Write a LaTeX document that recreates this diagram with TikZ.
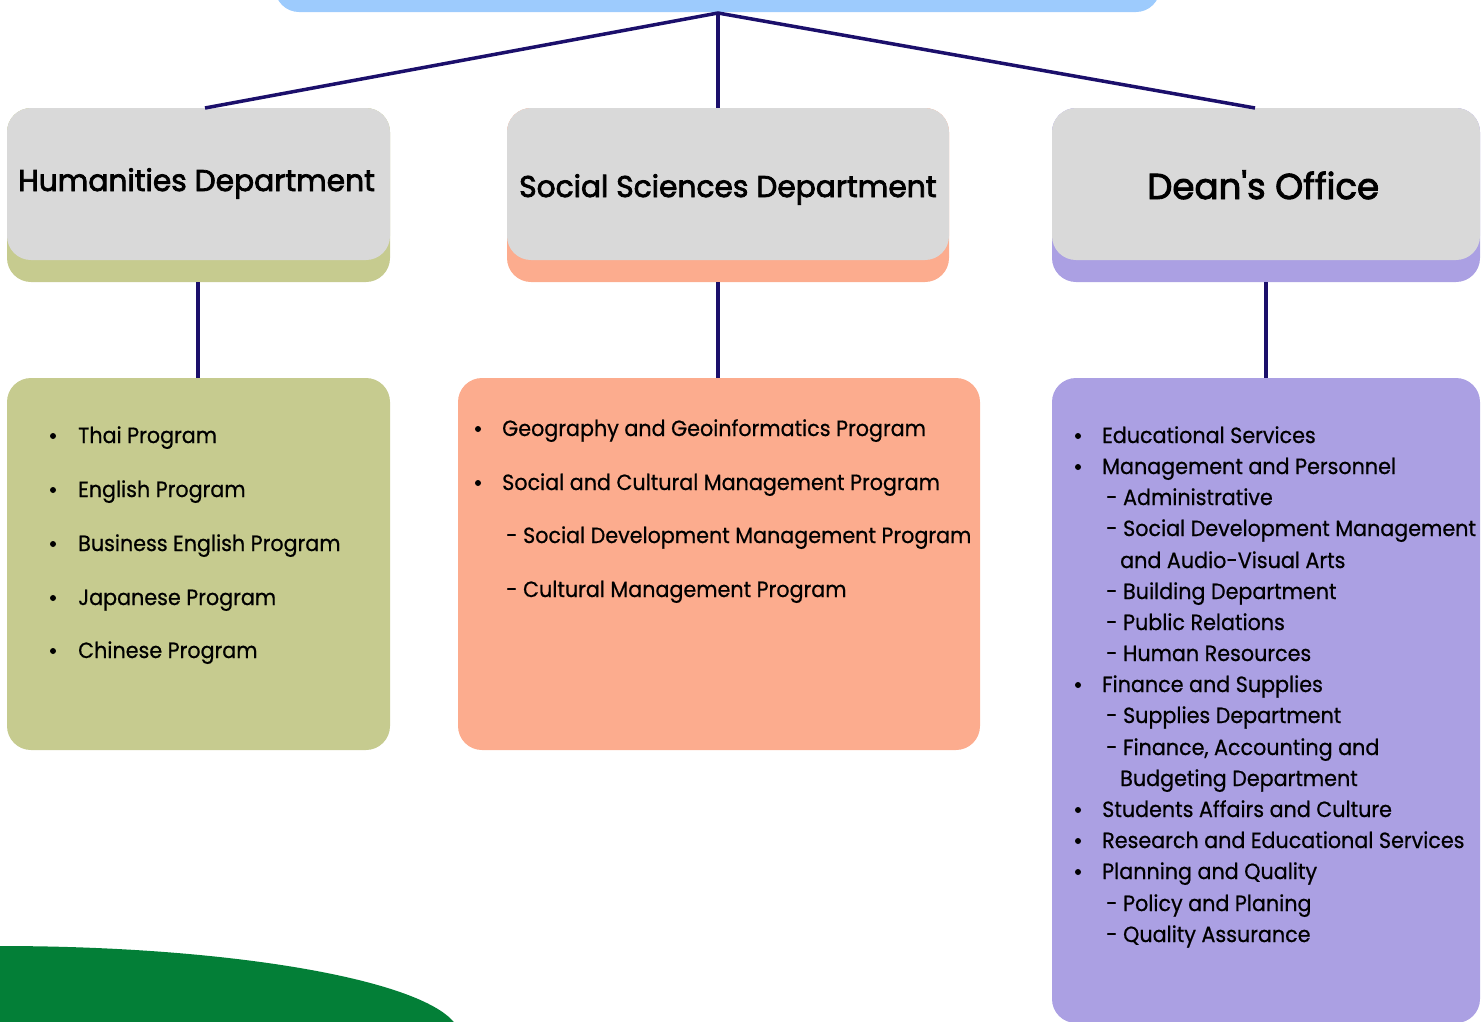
\documentclass[tikz,border=0pt]{standalone}
\usepackage{fontspec}
\setmainfont{Poppins}[FakeStretch=0.94,FakeBold=0.6]
\newfontfamily\hdfont{Poppins}[FakeStretch=0.99,FakeBold=2.5]
\usetikzlibrary{calc}
\definecolor{navy}{HTML}{1B0F6B}
\definecolor{olive}{HTML}{C6CB8F}
\definecolor{salmon}{HTML}{FCAC8E}
\definecolor{lav}{HTML}{ABA0E3}
\definecolor{hdrgray}{HTML}{D9D9D9}
\definecolor{topblue}{HTML}{9DCBFD}
\definecolor{leaf}{HTML}{037F37}
\begin{document}
\begin{tikzpicture}[x=1pt,y=-1pt,
  panel/.style={rectangle, rounded corners=24pt, inner sep=0pt, outer sep=0pt, anchor=north west},
  link/.style={draw=navy, line width=3.5pt},
  item/.style={anchor=base west, inner sep=0pt, font=\fontsize{22}{26}\selectfont},
  hd/.style={anchor=base west, inner sep=0pt, font=\hdfont\fontsize{30}{34}\selectfont},
  bul/.style={fill=black}
]
\useasboundingbox (0,0) rectangle (1482,1021);
% decorative leaf shape
\fill[leaf] (0,1037) ellipse [x radius=460, y radius=91];
% top box (cut off)
\node[panel, fill=topblue, minimum width=885pt, minimum height=60pt, anchor=south west] (top) at (275,12) {};
% department header boxes
\node[panel, fill=olive, minimum width=383pt, minimum height=174pt] (humb) at (7,108) {};
\node[panel, fill=hdrgray, minimum width=383pt, minimum height=152pt] (hum) at (7,108) {};
\node[panel, fill=salmon, minimum width=442pt, minimum height=174pt] (socb) at (507,108) {};
\node[panel, fill=hdrgray, minimum width=442pt, minimum height=152pt] (soc) at (507,108) {};
\node[panel, fill=lav, minimum width=428pt, minimum height=174pt] (deanb) at (1052,108) {};
\node[panel, fill=hdrgray, minimum width=428pt, minimum height=152pt] (dean) at (1052,108) {};
% list boxes
\node[panel, fill=olive, minimum width=383pt, minimum height=372pt] (huml) at (7,378) {};
\node[panel, fill=salmon, minimum width=522pt, minimum height=372pt] (socl) at (458,378) {};
\node[panel, fill=lav, minimum width=428pt, minimum height=645pt] (deanl) at (1052,378) {};
% connectors
\coordinate (apex) at (718,13);
\coordinate (humtop) at (205,108);
\coordinate (soctop) at (718,108);
\coordinate (deantop) at (1255,108);
\draw[link] (humtop) -- (apex) -- (deantop);
\draw[link] (apex) -- (soctop);
\draw[link] (humb.south -| 198,0) -- (huml.north -| 198,0);
\draw[link] (socb.south -| 718,0) -- (socl.north -| 718,0);
\draw[link] (deanb.south -| 1266,0) -- (deanl.north -| 1266,0);
% headers
\node[hd] (humt) at (18,191) {Humanities Department};
\node[hd] (soct) at (519,197) {Social Sciences Department};
\node[hd, font=\hdfont\fontsize{36}{40}\selectfont] (deant) at (1147,199) {Dean's Office};
% Humanities list
\foreach \y/\t [count=\i] in {443/Thai Program, 497/English Program, 551/Business English Program, 605/Japanese Program, 658/Chinese Program}{
  \fill[bul] (53,\y-7) circle (3);
  \node[item] (h\i) at (78,\y) {\t};
}
% Social Sciences list
\fill[bul] (478,429) circle (3);
\node[item] (s1) at (502,436) {Geography and Geoinformatics Program};
\fill[bul] (478,483) circle (3);
\node[item] (s2) at (502,490) {Social and Cultural Management Program};
\node[item] (s3) at (506,543) {- Social Development Management Program};
\node[item] (s4) at (506,597) {- Cultural Management Program};
% Dean's list
\foreach \y in {436,467,685,810,841,872}{ \fill[bul] (1078,\y) circle (3); }
\node[item] (d1) at (1102,443) {Educational Services};
\node[item] (d2) at (1102,474) {Management and Personnel};
\node[item] (d3) at (1106,505) {- Administrative};
\node[item] (d4) at (1106,536) {- Social Development Management};
\node[item] (d5) at (1120,568) {and Audio-Visual Arts};
\node[item] (d6) at (1106,599) {- Building Department};
\node[item] (d7) at (1106,630) {- Public Relations};
\node[item] (d8) at (1106,661) {- Human Resources};
\node[item] (d9) at (1102,692) {Finance and Supplies};
\node[item] (d10) at (1106,723) {- Supplies Department};
\node[item] (d11) at (1106,755) {- Finance, Accounting and};
\node[item] (d12) at (1120,786) {Budgeting Department};
\node[item] (d13) at (1102,817) {Students Affairs and Culture};
\node[item] (d14) at (1102,848) {Research and Educational Services};
\node[item] (d15) at (1102,879) {Planning and Quality};
\node[item] (d16) at (1106,911) {- Policy and Planing};
\node[item] (d17) at (1106,942) {- Quality Assurance};
\end{tikzpicture}
\end{document}
